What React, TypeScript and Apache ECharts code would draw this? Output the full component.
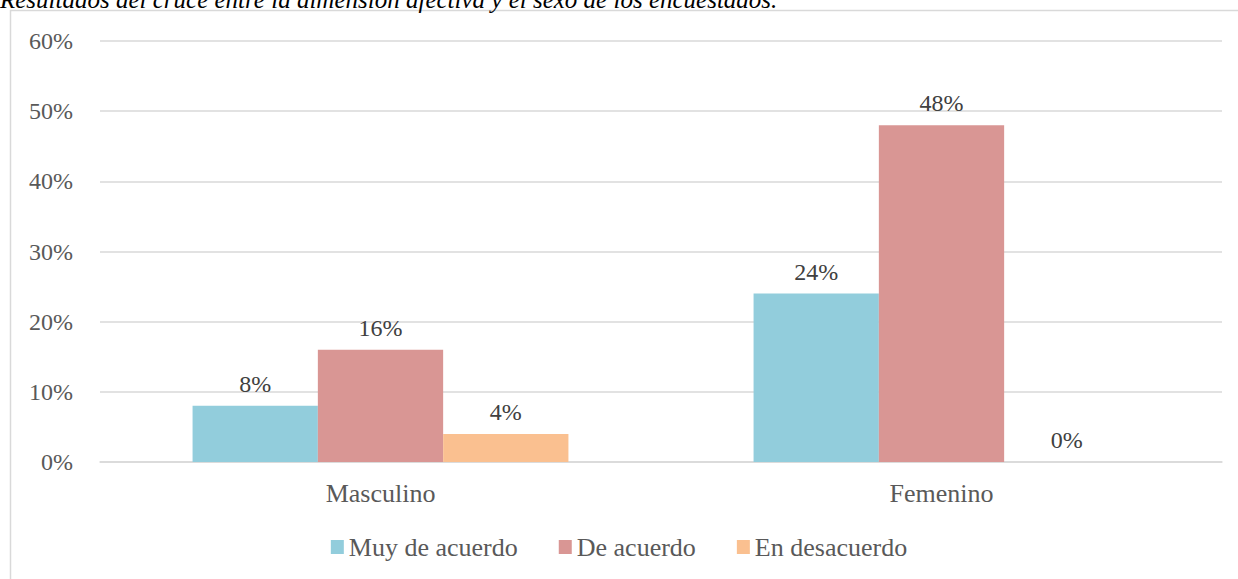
import React, { useEffect, useRef } from "react";
import * as echarts from "echarts";

const categories = ["Masculino", "Femenino"];
const seriesNames = ["Muy de acuerdo", "De acuerdo", "En desacuerdo"];
const muyDeAcuerdo = [8, 24];
const deAcuerdo = [16, 48];
const enDesacuerdo = [4, 0];
const colors = ["#92CDDC", "#D99694", "#FAC090"];
const titleText = "Resultados del cruce entre la dimensión afectiva y el sexo de los encuestados.";

export default function App() {
  const ref = useRef<HTMLDivElement>(null);
  useEffect(() => {
    if (!ref.current) return;
    const chart = echarts.init(ref.current, undefined, { renderer: "svg" });
    const font = "Liberation Serif";
    const values = [muyDeAcuerdo, deAcuerdo, enDesacuerdo];
    chart.setOption({
      animation: false,
      textStyle: { fontFamily: font },
      graphic: [
        {
          type: "rect",
          shape: { x: 10.5, y: 10.5, width: 1240, height: 580 },
          style: { fill: "none", stroke: "#D9D9D9", lineWidth: 1.5 },
          z: -1,
        },
        {
          type: "text",
          left: 0,
          top: -13,
          style: {
            text: titleText,
            fontFamily: font,
            fontStyle: "italic",
            fontSize: 25,
            fill: "#000",
          },
        },
      ],
      legend: {
        data: seriesNames,
        bottom: 14,
        left: "center",
        itemWidth: 13,
        itemHeight: 14,
        itemGap: 41,
        icon: "rect",
        textStyle: { fontFamily: font, fontSize: 26, color: "#595959" },
      },
      grid: { left: 100, right: 16, top: 41, bottom: 117, containLabel: false },
      xAxis: {
        type: "category",
        data: categories,
        axisLine: { lineStyle: { color: "#D9D9D9", width: 1.5 } },
        axisTick: { show: false },
        axisLabel: { fontFamily: font, fontSize: 26, color: "#595959", margin: 18 },
      },
      yAxis: {
        type: "value",
        min: 0,
        max: 60,
        interval: 10,
        axisLine: { show: false },
        axisTick: { show: false },
        splitLine: { lineStyle: { color: "#D9D9D9", width: 1.5 } },
        axisLabel: {
          fontFamily: font,
          fontSize: 24,
          color: "#595959",
          margin: 27,
          formatter: (v: number) => `${v}%`,
        },
      },
      series: seriesNames.map((name, i) => ({
        name,
        type: "bar",
        data: values[i],
        itemStyle: { color: colors[i] },
        barGap: "0%",
        barCategoryGap: "33%",
        label: {
          show: true,
          position: "top",
          distance: 10,
          fontFamily: font,
          fontSize: 24,
          color: "#404040",
          formatter: (p: any) => `${p.value}%`,
        },
      })),
    });
    return () => chart.dispose();
  }, []);
  return (
    <div
      ref={ref}
      style={{ position: "fixed", left: 0, top: 0, width: 1238, height: 579, background: "#fff" }}
    />
  );
}
